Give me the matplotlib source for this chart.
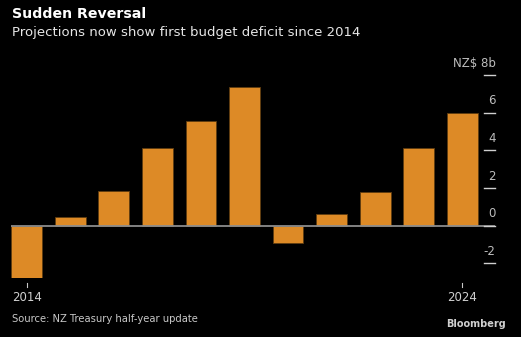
import matplotlib
matplotlib.use("Agg")
import matplotlib.pyplot as plt

# budget balance, NZ$ billions
years = [2014, 2015, 2016, 2017, 2018, 2019, 2020, 2021, 2022, 2023, 2024]
balance = [-2.77, 0.43, 1.84, 4.12, 5.55, 7.38, -0.93, 0.61, 1.76, 4.1, 5.96]
y_ticks = [-2, 0, 2, 4, 6, 8]
y_labels = ["-2", "0", "2", "4", "6", "NZ$ 8b"]
x_labels = {2014: "2014", 2024: "2024"}

fig = plt.figure(figsize=(5.21, 3.37), dpi=100, facecolor="black")
ax = fig.add_axes([0.021, 0.1742, 0.929, 0.6145])
ax.set_facecolor("black")

pos = list(range(len(years)))
ax.bar(pos, balance, width=0.705, color="#dd8a26", edgecolor="#5e3c10", linewidth=0.6, zorder=2)
ax.axhline(0, color="#8c8c8c", linewidth=1.3, zorder=3)

ax.set_xlim(-0.36, 10.75)
ax.set_ylim(-2.8, 8.2)

for s in ax.spines.values():
    s.set_visible(False)
ax.set_xticks([])
ax.set_yticks([])

# y ticks: short lines at the right with the label sitting above
for t, lab in zip(y_ticks, y_labels):
    ax.plot([10.49, 10.75], [t, t], color="#d0d0d0", linewidth=1.0, zorder=4, clip_on=False)
    ax.text(10.76, t + 0.28, lab, color="#bdbdbd", fontsize=8.5, ha="right", va="bottom")

# x ticks
for i, y in enumerate(years):
    if y in x_labels:
        ax.plot([i, i], [-3.05, -3.25], color="#c8c8c8", linewidth=0.8, clip_on=False)
        ax.text(i, -3.45, x_labels[y], color="#d0d0d0", fontsize=8.5, ha="center", va="top")

fig.text(0.023, 0.957, "Sudden Reversal", color="white", fontsize=10.2, fontweight="bold", va="center")
fig.text(0.023, 0.905, "Projections now show first budget deficit since 2014", color="#e6e6e6", fontsize=9.5, va="center")
fig.text(0.023, 0.053, "Source: NZ Treasury half-year update", color="#c8c8c8", fontsize=7.2, va="center")
fig.text(0.971, 0.04, "Bloomberg", color="#d0d0d0", fontsize=7, fontweight="bold", ha="right", va="center")

plt.savefig("out.png", dpi=100, facecolor="black")
